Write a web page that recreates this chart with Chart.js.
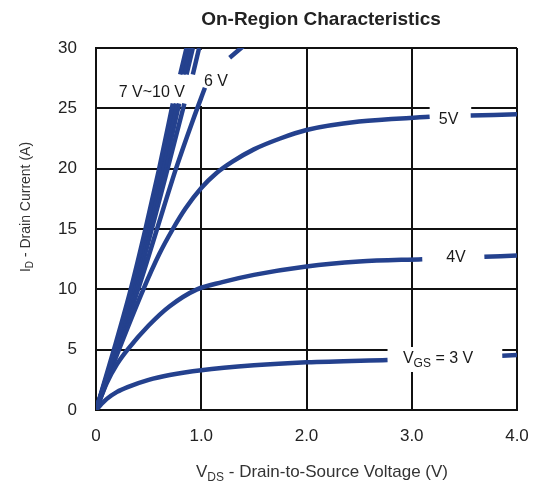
<!DOCTYPE html>
<html>
<head>
<meta charset="utf-8">
<script src="https://cdn.jsdelivr.net/npm/chart.js@4.4.1/dist/chart.umd.min.js"></script>
<style>
  body { margin: 0; background: #fff; }
  #wrap { width: 534px; height: 488px; }
</style>
</head>
<body>
<div id="wrap"><canvas id="myChart" width="534" height="488"></canvas></div>
<script>
// tick labels
const xTickLabels = ['0', '1.0', '2.0', '3.0', '4.0'];
const yTickLabels = ['0', '5', '10', '15', '20', '25', '30'];

// curves: [VDS (V), ID (A)], null = break for a label
const vgs10 = [[0, 0], [0.17, 5], [0.33, 10], [0.47, 15], [0.6, 20], [0.73, 25.4], null, [0.80, 27.8], [0.86, 30]];
const vgs9  = [[0, 0], [0.18, 5], [0.345, 10], [0.49, 15], [0.625, 20], [0.76, 25.4], null, [0.83, 27.8], [0.89, 30]];
const vgs8  = [[0, 0], [0.185, 5], [0.36, 10], [0.51, 15], [0.65, 20], [0.79, 25.4], null, [0.86, 27.8], [0.92, 30]];
const vgs7  = [[0, 0], [0.19, 5], [0.375, 10], [0.53, 15], [0.68, 20], [0.84, 25.4], null, [0.92, 27.8], [0.98, 30]];
const vgs6  = [[0, 0], [0.2, 5], [0.4, 10], [0.58, 15], [0.76, 20], [0.92, 24], [1.035, 26.7], null, [1.27, 29.2], [1.42, 30.3]];
const vgs5  = [[0, 0], [0.2, 4.6], [0.45, 10], [0.6, 12.9], [0.73, 15], [0.85, 16.7], [1.0, 18.4], [1.14, 19.6],
               [1.3, 20.6], [1.5, 21.6], [1.75, 22.5], [2.0, 23.2], [2.5, 23.9], [3.17, 24.3], null, [3.56, 24.4], [4.0, 24.5]];
const vgs4  = [[0, 0], [0.1, 2.2], [0.2, 3.8], [0.3, 5], [0.5, 7], [0.7, 8.6], [0.96, 10], [1.2, 10.6], [1.5, 11.2],
               [2.0, 11.9], [2.5, 12.3], [3.1, 12.5], null, [3.69, 12.7], [4.0, 12.8]];
const vgs3  = [[0, 0], [0.1, 0.9], [0.2, 1.5], [0.3, 1.9], [0.5, 2.5], [0.7, 2.9], [1.0, 3.3], [1.5, 3.7],
               [2.0, 3.95], [2.77, 4.15], null, [3.86, 4.5], [4.0, 4.55]];

const curves = [vgs10, vgs9, vgs8, vgs7, vgs6, vgs5, vgs4, vgs3];

// in-plot labels (data units) and the white patches behind them
const curveLabels = [
  { parts: [{ t: '7 V~10 V' }], x: 0.53, y: 26.3 },
  { parts: [{ t: '6 V' }], x: 1.14, y: 27.2 },
  { parts: [{ t: '5V' }], x: 3.35, y: 24.1 },
  { parts: [{ t: '4V' }], x: 3.42, y: 12.6 },
  { parts: [{ t: 'V' }, { t: 'GS', sub: true }, { t: ' = 3 V' }], x: 3.25, y: 4.3 }
];
const labelBoxes = [
  [0.97, 1.035, 25.2, 29.85],
  [3.17, 3.565, 23.05, 25.4],
  [3.12, 3.69, 11.8, 13.3],
  [2.77, 3.86, 3.15, 5.22]
];

const BLUE = '#24418e';
const FONT = 'Arial, "Liberation Sans", sans-serif';

function toPoints(arr) {
  return arr.map((p, i) => p ? { x: p[0], y: p[1] } : { x: arr[i - 1][0], y: null });
}

function drawParts(ctx, parts, cx, cy, size, align) {
  const sub = Math.round(size * 0.72);
  let w = 0;
  parts.forEach(p => {
    ctx.font = (p.sub ? sub : size) + 'px ' + FONT;
    p.w = ctx.measureText(p.t).width;
    w += p.w;
  });
  let x = align === 'center' ? cx - w / 2 : cx;
  ctx.textAlign = 'left';
  ctx.textBaseline = 'middle';
  parts.forEach(p => {
    ctx.font = (p.sub ? sub : size) + 'px ' + FONT;
    ctx.fillText(p.t, x, p.sub ? cy + size * 0.32 : cy);
    x += p.w;
  });
}

const overlay = {
  id: 'overlay',
  beforeDatasetsDraw(chart) {
    const { ctx, scales: { x, y } } = chart;
    ctx.save();
    ctx.fillStyle = '#fff';
    labelBoxes.forEach(b => {
      const x0 = x.getPixelForValue(b[0]), x1 = x.getPixelForValue(b[1]);
      const y0 = y.getPixelForValue(b[3]), y1 = y.getPixelForValue(b[2]);
      ctx.fillRect(x0, y0, x1 - x0, y1 - y0);
    });
    ctx.restore();
  },
  afterDatasetsDraw(chart) {
    const { ctx, scales: { x, y } } = chart;
    ctx.save();
    ctx.fillStyle = '#1a1a1a';
    curveLabels.forEach(l => {
      drawParts(ctx, l.parts.map(p => ({ ...p })), x.getPixelForValue(l.x), y.getPixelForValue(l.y), 16, 'center');
    });
    ctx.restore();
  },
  afterDraw(chart) {
    const ctx = chart.ctx;
    ctx.save();
    ctx.fillStyle = '#222';
    ctx.font = 'bold 19px ' + FONT;
    ctx.textAlign = 'center';
    ctx.textBaseline = 'middle';
    ctx.fillText('On-Region Characteristics', 321, 20);

    ctx.fillStyle = '#333';
    drawParts(ctx, [{ t: 'V' }, { t: 'DS', sub: true }, { t: ' - Drain-to-Source Voltage (V)' }], 322, 472, 17, 'center');

    ctx.translate(26, 207);
    ctx.rotate(-Math.PI / 2);
    drawParts(ctx, [{ t: 'I' }, { t: 'D', sub: true }, { t: ' - Drain Current (A)' }], 0, 0, 14, 'center');
    ctx.restore();
  }
};

const ctx = document.getElementById('myChart').getContext('2d');
const chart = new Chart(ctx, {
  type: 'line',
  data: {
    datasets: curves.map(c => ({
      data: toPoints(c),
      borderColor: BLUE,
      borderWidth: 4.5,
      pointRadius: 0,
      fill: false,
      spanGaps: false,
      cubicInterpolationMode: 'monotone'
    }))
  },
  options: {
    responsive: false,
    animation: false,
    devicePixelRatio: 1,
    layout: { padding: { top: 48, right: 17, left: 0, bottom: 0 } },
    plugins: {
      legend: { display: false },
      tooltip: { enabled: false }
    },
    scales: {
      x: {
        type: 'linear',
        min: 0,
        max: 4,
        afterFit: s => {
          s.height = 78;
          s.paddingLeft = 0;
          s.paddingRight = 17;
        },
        ticks: {
          stepSize: 1,
          padding: 16,
          color: '#222',
          font: { size: 17, family: FONT },
          callback: (v, i) => xTickLabels[i]
        },
        grid: { color: '#111', lineWidth: 2, drawTicks: false },
        border: { color: '#111', width: 2 }
      },
      y: {
        min: 0,
        max: 30,
        afterFit: s => { s.width = 96; },
        ticks: {
          stepSize: 5,
          padding: 19,
          color: '#222',
          font: { size: 17, family: FONT },
          callback: (v, i) => yTickLabels[i]
        },
        grid: { color: '#111', lineWidth: 2, drawTicks: false },
        border: { color: '#111', width: 2 }
      }
    }
  },
  plugins: [overlay]
});
</script>
</body>
</html>
